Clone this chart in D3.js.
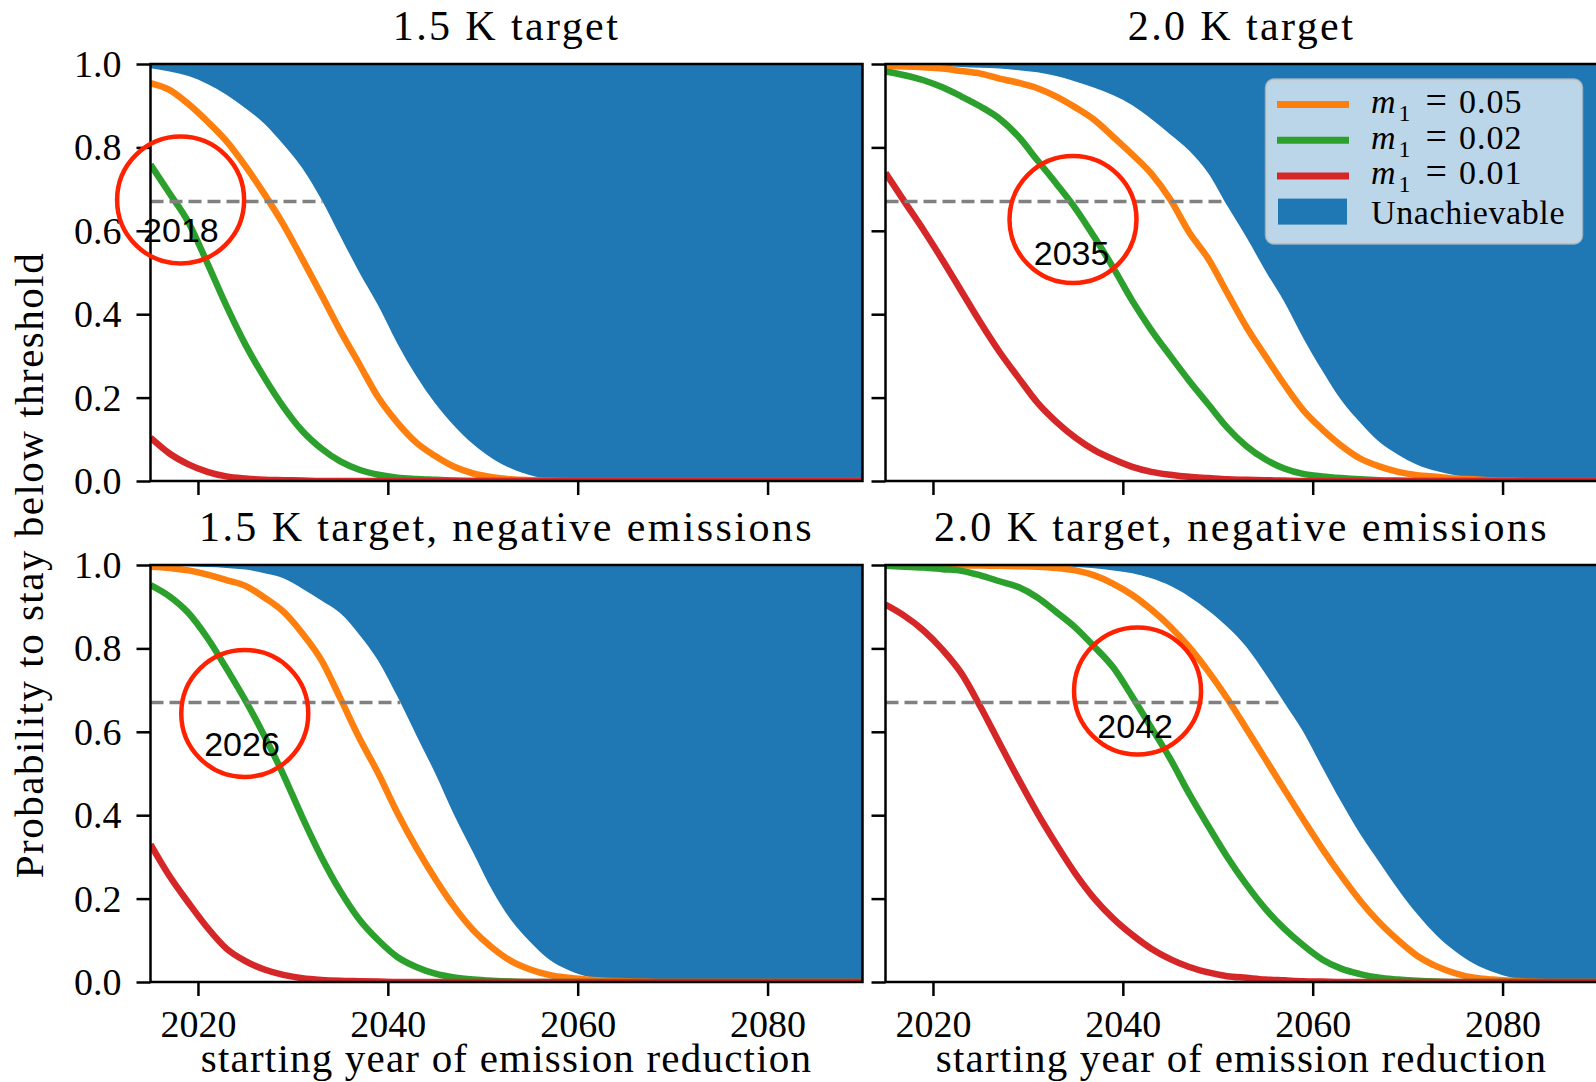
<!DOCTYPE html>
<html>
<head>
<meta charset="utf-8">
<script src="https://cdn.jsdelivr.net/npm/d3@7"></script>
<style>
  body { margin: 0; background: #fff; }
  svg text { font-family: "Liberation Serif", "Times New Roman", serif; fill: #000; }
</style>
</head>
<body>
<svg id="fig" width="1596" height="1082"></svg>
<script>
// Probability to stay below threshold vs. starting year (4 panels)

const years = [
  2015, 2017, 2019, 2021, 2023, 2025, 2027, 2029, 2031, 2033,
  2035, 2037, 2039, 2041, 2043, 2045, 2047, 2049, 2051, 2053,
  2055, 2057, 2059, 2061, 2063, 2065, 2067, 2069, 2071, 2073,
  2075, 2077, 2079, 2081, 2083, 2085, 2087, 2089, 2091
];

const panelTitles = ['1.5 K target', '2.0 K target', '1.5 K target, negative emissions', '2.0 K target, negative emissions'];
const seriesLabels = ['0.05', '0.02', '0.01'];
const yTicks = [0, 0.2, 0.4, 0.6, 0.8, 1.0];
const xTicks = [2020, 2040, 2060, 2080];
const threshold = 0.67;

// 1.5 K target
const unach15 = [
  0.990, 0.982, 0.971, 0.952, 0.926, 0.894, 0.857, 0.807, 0.750, 0.675,
  0.587, 0.500, 0.420, 0.330, 0.252, 0.186, 0.132, 0.088, 0.054, 0.030,
  0.014, 0.005, 0.001, 0, 0, 0, 0, 0, 0, 0,
  0, 0, 0, 0, 0, 0, 0, 0, 0
];
const m05_15 = [
  0.954, 0.938, 0.904, 0.862, 0.815, 0.755, 0.688, 0.615, 0.532, 0.447,
  0.360, 0.280, 0.200, 0.140, 0.092, 0.060, 0.034, 0.018, 0.009, 0.004,
  0.002, 0.001, 0, 0, 0, 0, 0, 0, 0, 0,
  0, 0, 0, 0, 0, 0, 0, 0, 0
];
const m02_15 = [
  0.759, 0.690, 0.620, 0.522, 0.420, 0.327, 0.248, 0.178, 0.120, 0.078,
  0.047, 0.027, 0.015, 0.008, 0.005, 0.003, 0.001, 0, 0, 0,
  0, 0, 0, 0, 0, 0, 0, 0, 0, 0,
  0, 0, 0, 0, 0, 0, 0, 0, 0
];
const m01_15 = [
  0.104, 0.066, 0.040, 0.022, 0.011, 0.006, 0.003, 0.002, 0.001, 0,
  0, 0, 0, 0, 0, 0, 0, 0, 0, 0,
  0, 0, 0, 0, 0, 0, 0, 0, 0, 0,
  0, 0, 0, 0, 0, 0, 0, 0, 0
];

// 2.0 K target
const unach20 = [
  0.998, 0.997, 0.996, 0.995, 0.993, 0.991, 0.989, 0.985, 0.980, 0.971,
  0.958, 0.943, 0.925, 0.901, 0.868, 0.831, 0.792, 0.738, 0.660, 0.585,
  0.505, 0.430, 0.343, 0.265, 0.194, 0.140, 0.094, 0.063, 0.039, 0.024,
  0.014, 0.008, 0.004, 0.001, 0, 0, 0, 0, 0
];
const m05_20 = [
  0.995, 0.994, 0.992, 0.989, 0.983, 0.977, 0.965, 0.955, 0.942, 0.922,
  0.896, 0.866, 0.825, 0.783, 0.737, 0.675, 0.596, 0.533, 0.451, 0.370,
  0.300, 0.232, 0.170, 0.124, 0.085, 0.054, 0.035, 0.022, 0.014, 0.010,
  0.006, 0.004, 0.002, 0.001, 0, 0, 0, 0, 0
];
const m02_20 = [
  0.982, 0.973, 0.961, 0.944, 0.922, 0.898, 0.869, 0.826, 0.769, 0.713,
  0.654, 0.585, 0.511, 0.432, 0.362, 0.300, 0.240, 0.184, 0.128, 0.084,
  0.052, 0.030, 0.017, 0.011, 0.007, 0.004, 0.002, 0.001, 0, 0,
  0, 0, 0, 0, 0, 0, 0, 0, 0
];
const m01_20 = [
  0.739, 0.670, 0.602, 0.530, 0.455, 0.380, 0.310, 0.248, 0.188, 0.142,
  0.104, 0.074, 0.052, 0.034, 0.022, 0.015, 0.010, 0.007, 0.004, 0.003,
  0.002, 0.001, 0, 0, 0, 0, 0, 0, 0, 0,
  0, 0, 0, 0, 0, 0, 0, 0, 0
];

// 1.5 K target, negative emissions
const unach15n = [
  0.998, 0.998, 0.997, 0.995, 0.993, 0.989, 0.980, 0.968, 0.943, 0.915,
  0.884, 0.833, 0.770, 0.685, 0.592, 0.500, 0.400, 0.310, 0.220, 0.148,
  0.096, 0.054, 0.029, 0.013, 0.003, 0, 0, 0, 0, 0,
  0, 0, 0, 0, 0, 0, 0, 0, 0
];
const m05_15n = [
  0.996, 0.993, 0.987, 0.977, 0.964, 0.950, 0.922, 0.888, 0.836, 0.772,
  0.680, 0.585, 0.500, 0.406, 0.322, 0.247, 0.180, 0.124, 0.082, 0.050,
  0.030, 0.017, 0.010, 0.006, 0.003, 0.002, 0.001, 0, 0, 0,
  0, 0, 0, 0, 0, 0, 0, 0, 0
];
const m02_15n = [
  0.952, 0.925, 0.885, 0.825, 0.752, 0.675, 0.590, 0.497, 0.395, 0.300,
  0.218, 0.150, 0.100, 0.060, 0.036, 0.020, 0.011, 0.006, 0.003, 0.001,
  0, 0, 0, 0, 0, 0, 0, 0, 0, 0,
  0, 0, 0, 0, 0, 0, 0, 0, 0
];
const m01_15n = [
  0.330, 0.254, 0.190, 0.130, 0.080, 0.050, 0.030, 0.017, 0.009, 0.005,
  0.003, 0.002, 0.001, 0, 0, 0, 0, 0, 0, 0,
  0, 0, 0, 0, 0, 0, 0, 0, 0, 0,
  0, 0, 0, 0, 0, 0, 0, 0, 0
];

// 2.0 K target, negative emissions
const unach20n = [
  1.000, 1.000, 1.000, 0.999, 0.999, 0.999, 0.999, 0.999, 0.998, 0.997,
  0.995, 0.992, 0.987, 0.980, 0.968, 0.950, 0.924, 0.891, 0.852, 0.804,
  0.740, 0.670, 0.600, 0.515, 0.432, 0.355, 0.288, 0.222, 0.163, 0.113,
  0.074, 0.044, 0.024, 0.010, 0.003, 0, 0, 0, 0
];
const m05_20n = [
  1.000, 1.000, 1.000, 0.999, 0.999, 0.999, 0.998, 0.997, 0.996, 0.993,
  0.987, 0.975, 0.955, 0.928, 0.893, 0.852, 0.803, 0.745, 0.680, 0.608,
  0.535, 0.462, 0.390, 0.320, 0.255, 0.195, 0.143, 0.100, 0.063, 0.038,
  0.021, 0.010, 0.006, 0.003, 0.001, 0, 0, 0, 0
];
const m02_20n = [
  0.998, 0.996, 0.994, 0.990, 0.986, 0.975, 0.961, 0.947, 0.922, 0.887,
  0.850, 0.804, 0.754, 0.684, 0.610, 0.535, 0.451, 0.374, 0.300, 0.234,
  0.176, 0.128, 0.088, 0.054, 0.032, 0.019, 0.010, 0.006, 0.003, 0.001,
  0, 0, 0, 0, 0, 0, 0, 0, 0
];
const m01_20n = [
  0.905, 0.878, 0.843, 0.797, 0.740, 0.660, 0.573, 0.487, 0.405, 0.330,
  0.260, 0.200, 0.152, 0.113, 0.080, 0.055, 0.036, 0.023, 0.014, 0.010,
  0.006, 0.004, 0.002, 0.001, 0, 0, 0, 0, 0, 0,
  0, 0, 0, 0, 0, 0, 0, 0, 0
];

// hand-drawn annotations (year, probability)
const annotLabels = ['2018', '2035', '2026', '2042'];
const circleYears = [2018.17, 2034.75, 2024.93, 2041.55];
const circleProbs = [0.674, 0.627, 0.644, 0.698];
const labelYears = [2018.2, 2034.6, 2024.64, 2041.3];
const labelProbs = [0.574, 0.518, 0.543, 0.586];

const COLORS = { unach: '#1f77b4', m05: '#ff7f0e', m02: '#2ca02c', m01: '#d62728' };

const panelData = [
  { unach: unach15, lines: [m05_15, m02_15, m01_15] },
  { unach: unach20, lines: [m05_20, m02_20, m01_20] },
  { unach: unach15n, lines: [m05_15n, m02_15n, m01_15n] },
  { unach: unach20n, lines: [m05_20n, m02_20n, m01_20n] }
];

// layout
const colX = [150.5, 885.5];
const rowY = [64, 565];
const pw = 712, ph = 417;

const svg = d3.select('#fig');
const x = d3.scaleLinear().domain([2015, 2090]).range([0, pw]);
const y = d3.scaleLinear().domain([0, 1]).range([ph, 0]);
const lineColors = [COLORS.m05, COLORS.m02, COLORS.m01];

function crossYear(vals, t) {
  for (let i = 1; i < years.length; i++) {
    if (vals[i - 1] >= t && vals[i] < t) {
      return years[i - 1] + (years[i] - years[i - 1]) * (vals[i - 1] - t) / (vals[i - 1] - vals[i]);
    }
  }
  return years[0];
}

panelData.forEach((pd, i) => {
  const col = i % 2, row = Math.floor(i / 2);
  const g = svg.append('g').attr('transform', `translate(${colX[col]},${rowY[row]})`);

  g.append('clipPath').attr('id', `clip${i}`)
    .append('rect').attr('width', pw).attr('height', ph);
  const plot = g.append('g').attr('clip-path', `url(#clip${i})`);

  const area = d3.area()
    .x((d, j) => x(years[j]))
    .y0(y(1))
    .y1(d => y(d))
    .curve(d3.curveMonotoneX);
  plot.append('path').datum(pd.unach).attr('d', area).attr('fill', COLORS.unach);

  const line = d3.line()
    .x((d, j) => x(years[j]))
    .y(d => y(d))
    .curve(d3.curveMonotoneX);
  pd.lines.forEach((vals, k) => {
    plot.append('path').datum(vals).attr('d', line)
      .attr('fill', 'none').attr('stroke', lineColors[k]).attr('stroke-width', 6.5)
      .attr('stroke-linejoin', 'round');
  });

  // threshold until the unachievable region
  const xEnd = crossYear(pd.unach, threshold);
  plot.append('line')
    .attr('x1', x(2015)).attr('x2', x(xEnd))
    .attr('y1', y(threshold)).attr('y2', y(threshold))
    .attr('stroke', '#808080').attr('stroke-width', 3.5)
    .attr('stroke-dasharray', '13,6');

  // axes
  const yAxis = d3.axisLeft(y).tickValues(yTicks).tickSize(14).tickPadding(15)
    .tickFormat(col === 0 ? d3.format('.1f') : '');
  const xAxis = d3.axisBottom(x).tickValues(xTicks).tickSize(14).tickPadding(14)
    .tickFormat(row === 1 ? d3.format('d') : '');

  const ya = g.append('g').call(yAxis);
  const xa = g.append('g').attr('transform', `translate(0,${ph})`).call(xAxis);
  [ya, xa].forEach(a => {
    a.select('.domain').remove();
    a.selectAll('line').attr('stroke', '#000').attr('stroke-width', 2.5);
    a.selectAll('text').attr('font-family', '"Liberation Serif", serif')
      .attr('font-size', 38).attr('fill', '#000');
  });
  ya.selectAll('text').attr('dy', '0.33em');

  g.append('rect').attr('width', pw).attr('height', ph)
    .attr('fill', 'none').attr('stroke', '#000').attr('stroke-width', 2.5);

  g.append('text')
    .attr('x', pw / 2).attr('y', -24)
    .attr('text-anchor', 'middle')
    .attr('font-size', 42).attr('letter-spacing', 2.4)
    .text(panelTitles[i]);

  if (row === 1) {
    g.append('text')
      .attr('x', pw / 2).attr('y', ph + 90)
      .attr('text-anchor', 'middle')
      .attr('font-size', 41).attr('letter-spacing', 1.2)
      .text('starting year of emission reduction');
  }

  // annotation
  const an = g.append('g');
  an.append('circle')
    .attr('cx', x(circleYears[i])).attr('cy', y(circleProbs[i])).attr('r', 63.5)
    .attr('fill', 'none').attr('stroke', '#ff2200').attr('stroke-width', 4.5);
  an.append('text')
    .attr('x', x(labelYears[i])).attr('y', y(labelProbs[i]))
    .attr('text-anchor', 'middle')
    .style('font-family', '"Liberation Sans", Arial, sans-serif')
    .attr('font-size', 34)
    .text(annotLabels[i]);

  // legend in the 2.0 K panel
  if (i === 1) {
    const lg = g.append('g').attr('transform', 'translate(380.5,15.5)');
    lg.append('rect').attr('width', 316).attr('height', 164).attr('rx', 8)
      .attr('fill', 'rgba(255,255,255,0.7)')
      .attr('stroke', 'rgba(204,204,204,0.7)').attr('stroke-width', 2.5);
    const rowH = 35.7;
    seriesLabels.forEach((lab, k) => {
      const cy = 25 + k * rowH;
      lg.append('line').attr('x1', 11).attr('x2', 83).attr('y1', cy).attr('y2', cy)
        .attr('stroke', lineColors[k]).attr('stroke-width', 7);
      const t = lg.append('text').attr('x', 105).attr('y', cy + 8.5).attr('font-size', 34);
      t.append('tspan').attr('font-style', 'italic').text('m');
      t.append('tspan').attr('font-size', 24).attr('dx', 3).attr('dy', 8).text('1');
      t.append('tspan').attr('font-size', 38).attr('dx', 15).attr('dy', -8).text('=');
      t.append('tspan').attr('dx', 12).attr('letter-spacing', 1).text(lab);
    });
    const py = 25 + 3 * rowH;
    lg.append('rect').attr('x', 12).attr('y', py - 13).attr('width', 69).attr('height', 26)
      .attr('fill', COLORS.unach);
    lg.append('text').attr('x', 105).attr('y', py + 12.5).attr('font-size', 34)
      .attr('letter-spacing', 0.6).text('Unachievable');
  }
});

svg.append('text')
  .attr('transform', 'translate(43,565) rotate(-90)')
  .attr('text-anchor', 'middle')
  .attr('font-size', 41).attr('letter-spacing', 1.5)
  .text('Probability to stay below threshold');
</script>
</body>
</html>
